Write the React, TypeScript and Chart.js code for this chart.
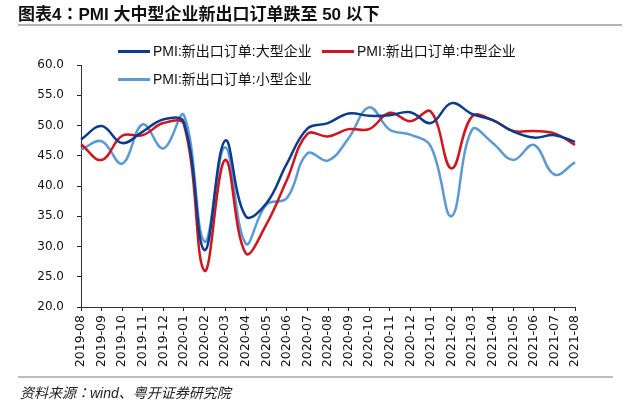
import { useEffect, useRef } from 'react';
import { Chart, registerables } from 'chart.js';

Chart.register(...registerables);

// monthly categories, 2019-08 .. 2021-08
const months = [
   '2019-08', '2019-09', '2019-10', '2019-11', '2019-12',
   '2020-01', '2020-02', '2020-03', '2020-04', '2020-05', '2020-06', '2020-07',
   '2020-08', '2020-09', '2020-10', '2020-11', '2020-12',
   '2021-01', '2021-02', '2021-03', '2021-04', '2021-05', '2021-06', '2021-07', '2021-08',
];

const seriesNames = ['PMI:新出口订单:大型企业', 'PMI:新出口订单:中型企业', 'PMI:新出口订单:小型企业'];

const largeOrders = [
   47.7, 49.9, 47.1, 49.0, 51.0, 50.5, 29.4, 47.5, 35.0, 37.1, 43.7, 49.5, 50.4,
   52.0, 51.6, 51.7, 52.2, 50.4, 53.7, 51.9, 50.9, 49.0, 48.0, 48.4, 47.3,
];
const mediumOrders = [
   46.9, 44.3, 48.3, 48.4, 50.4, 50.2, 26.0, 44.3, 28.9, 33.6, 41.0, 48.6, 48.2,
   49.4, 49.4, 52.1, 50.7, 52.3, 42.9, 51.5, 50.9, 49.1, 49.1, 48.7, 46.8,
];
const smallOrders = [
   46.0, 47.4, 43.7, 50.2, 46.2, 51.7, 30.8, 46.4, 30.5, 36.9, 38.0, 45.4, 44.2,
   47.9, 53.0, 49.3, 48.5, 46.5, 35.0, 49.3, 47.1, 44.3, 46.8, 41.9, 43.9,
];

const yMin = 20;
const yMax = 60;
const yStep = 5;

const colors = ['#0b3c8f', '#d2141e', '#5b9bd5'];

const textFont = '"Liberation Sans", Arial, "Noto Sans CJK SC", sans-serif';

// full-width colon kept in a whole em box, centred like the original report
function Colon() {
   return (
      <span
         style={{
            display: 'inline-block',
            width: '1em',
            textAlign: 'center',
            fontFamily: '"Noto Sans CJK JP", sans-serif',
            fontFeatureSettings: '"fwid" 1',
            textSpacingTrim: 'space-all',
         } as any}
      >
         ：
      </span>
   );
}

function LegendItem({ color, label, left, top }: { color: string; label: string; left: number; top: number }) {
   return (
      <div style={{ position: 'absolute', left, top, display: 'flex', alignItems: 'center', height: 18 }}>
         <div style={{ width: 32, height: 3, background: color }} />
         <span style={{ marginLeft: 3, fontSize: 14, color: '#111', whiteSpace: 'nowrap', lineHeight: '18px' }}>{label}</span>
      </div>
   );
}

export default function App() {
   const chartRef = useRef<HTMLCanvasElement>(null);
   const chartInstance = useRef<Chart | null>(null);

   useEffect(() => {
      if (!chartRef.current) return;
      if (chartInstance.current) {
         chartInstance.current.destroy();
      }
      const ctx = chartRef.current.getContext('2d');
      if (!ctx) return;

      const values = [largeOrders, mediumOrders, smallOrders];

      chartInstance.current = new Chart(ctx, {
         type: 'line',
         data: {
            labels: months,
            datasets: values.map((data, i) => ({
               label: seriesNames[i],
               data,
               borderColor: colors[i],
               backgroundColor: colors[i],
               borderWidth: 2.5,
               pointRadius: 0,
               tension: 0.4,
               fill: false,
            })),
         },
         options: {
            responsive: false,
            animation: false,
            layout: {
               padding: { top: 65, right: 64, left: 0, bottom: 0 },
            },
            plugins: {
               legend: { display: false },
               title: { display: false },
               tooltip: { enabled: false },
            },
            scales: {
               x: {
                  type: 'category',
                  offset: false,
                  afterFit: (scale: any) => {
                     scale.height = 104;
                  },
                  grid: {
                     display: true,
                     drawOnChartArea: false,
                     drawTicks: true,
                     tickLength: 4,
                     color: '#222',
                  },
                  border: { display: true, color: '#333', width: 1 },
                  ticks: {
                     autoSkip: false,
                     minRotation: 90,
                     maxRotation: 90,
                     padding: 4,
                     color: '#111',
                     font: { family: '"DejaVu Sans"', size: 12.5 },
                  },
               },
               y: {
                  min: yMin,
                  max: yMax,
                  afterFit: (scale: any) => {
                     scale.width = 81;
                  },
                  grid: {
                     display: true,
                     drawOnChartArea: false,
                     drawTicks: true,
                     tickLength: 4,
                     color: '#222',
                  },
                  border: { display: true, color: '#333', width: 1 },
                  ticks: {
                     stepSize: yStep,
                     padding: 13,
                     color: '#111',
                     font: { family: '"DejaVu Sans"', size: 12 },
                     callback: (value: any) => Number(value).toFixed(1),
                  },
               },
            },
         },
      });

      return () => {
         if (chartInstance.current) {
            chartInstance.current.destroy();
            chartInstance.current = null;
         }
      };
   }, []);

   return (
      <div
         style={{
            position: 'fixed',
            left: 0,
            top: 0,
            width: 639,
            height: 411,
            background: '#fff',
            fontFamily: textFont,
            overflow: 'hidden',
         }}
      >
         <canvas ref={chartRef} width={639} height={411} style={{ position: 'absolute', left: 0, top: 0 }} />

         <div
            style={{
               position: 'absolute',
               left: 18,
               top: 3,
               fontSize: 17,
               fontWeight: 'bold',
               lineHeight: '20px',
               color: '#111',
               whiteSpace: 'nowrap',
            }}
         >
            图表4<Colon />PMI 大中型企业新出口订单跌至 50 以下
         </div>
         <div style={{ position: 'absolute', left: 18, top: 24, width: 604, height: 2, background: '#b4b4b4' }} />

         <LegendItem color={colors[0]} label={seriesNames[0]} left={118} top={42} />
         <LegendItem color={colors[1]} label={seriesNames[1]} left={322} top={42} />
         <LegendItem color={colors[2]} label={seriesNames[2]} left={118} top={70} />

         <div style={{ position: 'absolute', left: 18, top: 376, width: 595, height: 1.5, background: '#bdbdbd' }} />
         <div
            style={{
               position: 'absolute',
               left: 20,
               top: 383,
               fontSize: 14,
               fontStyle: 'italic',
               lineHeight: '18px',
               color: '#222',
               whiteSpace: 'nowrap',
            }}
         >
            资料来源<Colon />wind、粤开证券研究院
         </div>
      </div>
   );
}
